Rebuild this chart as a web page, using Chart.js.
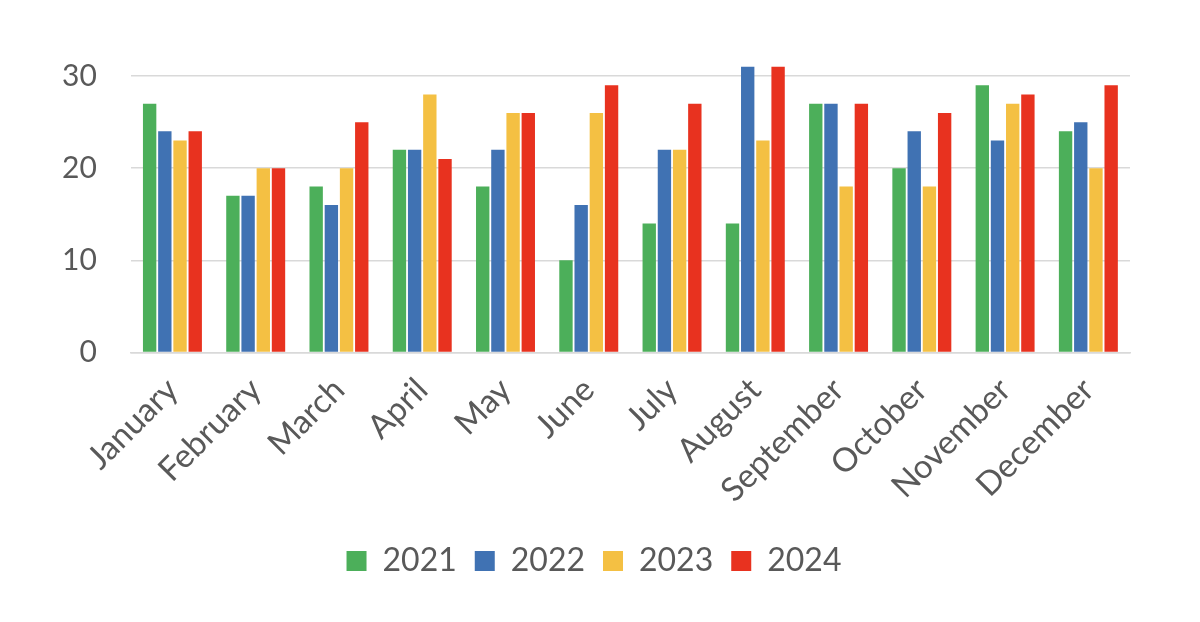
<!DOCTYPE html>
<html>
<head>
<meta charset="utf-8">
<script src="https://cdn.jsdelivr.net/npm/chart.js@4"></script>
<style>
  html, body { margin: 0; padding: 0; background: #fff; }
  #wrap { width: 1200px; height: 622px; }
</style>
</head>
<body>
<div id="wrap"><canvas id="myChart"></canvas></div>
<script>
const months = ['January','February','March','April','May','June','July','August','September','October','November','December'];
const y2021 = [27,17,18,22,18,10,14,14,27,20,29,24];
const y2022 = [24,17,16,22,22,16,22,31,27,24,23,25];
const y2023 = [23,20,20,28,26,26,22,23,18,18,27,20];
const y2024 = [24,20,25,21,26,29,27,31,27,26,28,29];
const yTicks = [0,10,20,30];

const txt = '#595959';
const ctx = document.getElementById('myChart');

function ds(label, data, color){
  return { label: label, data: data, backgroundColor: color, borderWidth: 0,
    categoryPercentage: 0.73, barPercentage: 0.88 };
}

new Chart(ctx, {
  type: 'bar',
  data: {
    labels: months,
    datasets: [
      ds('2021', y2021, '#4caf5a'),
      ds('2022', y2022, '#4072b3'),
      ds('2023', y2023, '#f4c043'),
      ds('2024', y2024, '#e8321f')
    ]
  },
  options: {
    responsive: true,
    maintainAspectRatio: false,
    animation: false,
    layout: { padding: { top: 30, right: 70, left: 58, bottom: 35 } },
    plugins: {
      tooltip: { enabled: false },
      legend: {
        position: 'bottom',
        labels: {
          font: { family: 'Lato', size: 32 },
          color: txt,
          boxWidth: 20, boxHeight: 20,
          padding: 18
        }
      }
    },
    scales: {
      x: {
        grid: { display: false },
        border: { color: '#d9d9d9', width: 1.5 },
        afterFit: axis => { axis.height += 7; },
        ticks: {
          font: { family: 'Lato', size: 33 },
          color: txt,
          maxRotation: 45, minRotation: 45,
          padding: 10
        }
      },
      y: {
        min: 0, max: 35,
        afterBuildTicks: axis => { axis.ticks = yTicks.map(v => ({ value: v })); },
        grid: { color: '#d9d9d9', lineWidth: 1.5, drawTicks: true, tickLength: 30, tickColor: 'rgba(0,0,0,0)' },
        border: { display: false },
        ticks: {
          font: { family: 'Lato', size: 30 },
          color: txt,
          padding: 4
        }
      }
    }
  }
});
</script>
</body>
</html>
